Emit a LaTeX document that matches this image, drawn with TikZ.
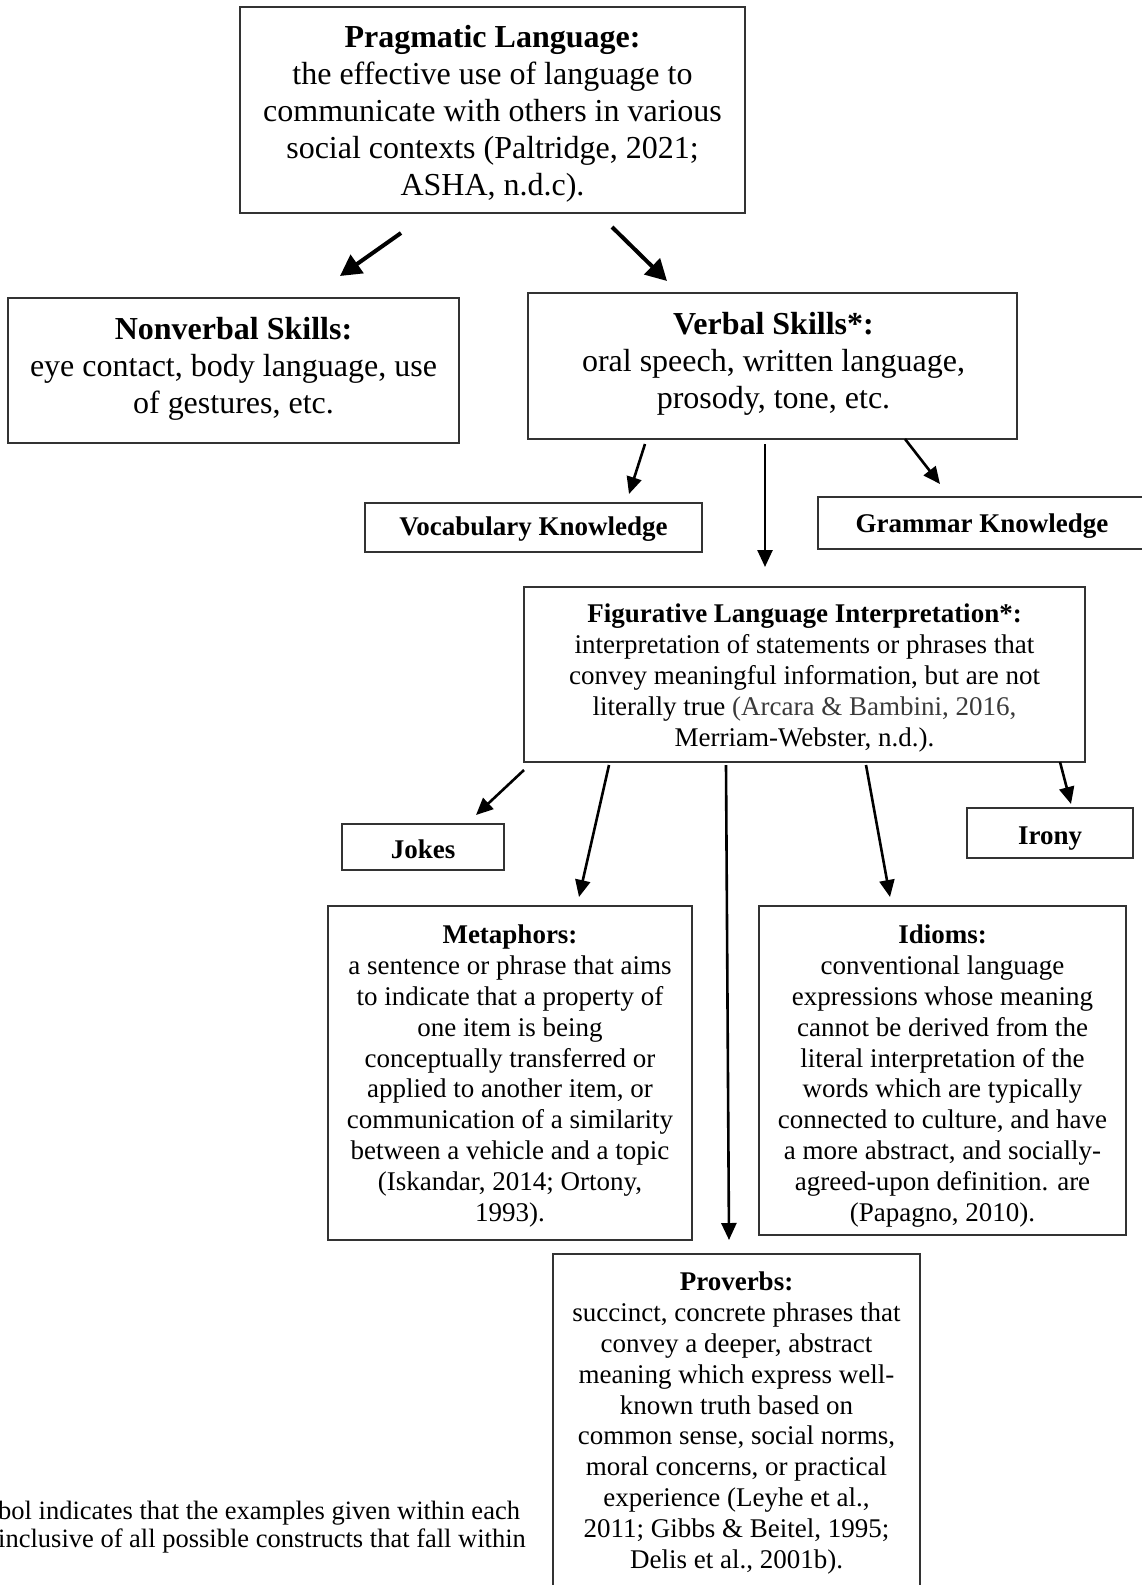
\documentclass[tikz,border=0pt]{standalone}
\usepackage{fontspec}
\setmainfont{Liberation Serif}
\usetikzlibrary{arrows.meta}
\definecolor{boxline}{HTML}{333333}
\definecolor{citegray}{HTML}{3A3A3A}
\tikzset{
  box/.style={draw=boxline, line width=1.5pt, inner sep=0pt},
  txt/.style={inner sep=0pt, align=center},
  bigtext/.style={txt, font=\fontsize{32}{37}\selectfont},
  smalltext/.style={txt, font=\fontsize{27}{30.8}\selectfont},
  bigarrow/.style={line width=4pt, -{Triangle[length=21pt,width=22pt]}},
  arrowline/.style={line width=2.6pt, -{Triangle[length=17pt,width=15pt]}},
}
\begin{document}
\begin{tikzpicture}[x=1pt,y=-1pt]
\useasboundingbox (0,0) rectangle (1142,1585);

% boxes
\node[box, minimum width=505pt, minimum height=206pt] (top) at (492.5,110) {};
\node[box, minimum width=451pt, minimum height=145pt] (nonv) at (233.5,370.5) {};
\node[box, minimum width=489pt, minimum height=146pt] (verb) at (772.5,366) {};
\node[box, minimum width=337pt, minimum height=49pt] (vocab) at (533.5,527.5) {};
\node[box, minimum width=328pt, minimum height=52pt] (gram) at (982,523) {};
\node[box, minimum width=561pt, minimum height=175pt] (fig) at (804.5,674.5) {};
\node[box, minimum width=162pt, minimum height=46pt] (jokes) at (423,847) {};
\node[box, minimum width=166pt, minimum height=50pt] (irony) at (1050,833) {};
\node[box, minimum width=364pt, minimum height=334pt] (meta) at (510,1073) {};
\node[box, minimum width=367pt, minimum height=329pt] (idioms) at (942.5,1070.5) {};
\node[box, minimum width=367pt, minimum height=334pt] (prov) at (736.5,1421) {};

% texts
\node[bigtext] (toptxt) at (492.5,114)
  {\textbf{Pragmatic Language:}\\ the effective use of language to\\ communicate with others in various\\ social contexts (Paltridge, 2021;\\ ASHA, n.d.c).};
\node[bigtext] (nonvtxt) at (233.5,369)
  {\textbf{Nonverbal Skills:}\\ eye contact, body language, use\\ of gestures, etc.};
\node[bigtext] (verbtxt) at (773.5,363.5)
  {\textbf{Verbal Skills*:}\\ oral speech, written language,\\ prosody, tone, etc.};
\node[smalltext] (vocabtxt) at (533.5,529.5)
  {\textbf{Vocabulary Knowledge}};
\node[smalltext] (gramtxt) at (982,526)
  {\textbf{Grammar Knowledge}};
\node[smalltext] (figtxt) at (804.5,678)
  {\textbf{Figurative Language Interpretation*:}\\ interpretation of statements or phrases that\\ convey meaningful information, but are not\\ literally true {\color{citegray}(Arcara \& Bambini, 2016,}\\ Merriam-Webster, n.d.).};
\node[smalltext] (jokestxt) at (423,849)
  {\textbf{Jokes}};
\node[smalltext] (ironytxt) at (1050,839)
  {\textbf{Irony}};
\node[smalltext] (metatxt) at (510,1076)
  {\textbf{Metaphors:}\\ a sentence or phrase that aims\\ to indicate that a property of\\ one item is being\\ conceptually transferred or\\ applied to another item, or\\ communication of a similarity\\ between a vehicle and a topic\\ (Iskandar, 2014; Ortony,\\ 1993).};
\node[smalltext] (idiomstxt) at (942.5,1076)
  {\textbf{Idioms:}\\ conventional language\\ expressions whose meaning\\ cannot be derived from the\\ literal interpretation of the\\ words which are typically\\ connected to culture, and have\\ a more abstract, and socially-\\ agreed-upon definition. are\\ (Papagno, 2010).};
\node[smalltext] (provtxt) at (736.5,1423)
  {\textbf{Proverbs:}\\ succinct, concrete phrases that\\ convey a deeper, abstract\\ meaning which express well-\\ known truth based on\\ common sense, social norms,\\ moral concerns, or practical\\ experience (Leyhe et al.,\\ 2011; Gibbs \& Beitel, 1995;\\ Delis et al., 2001b).};

% footnote (cut at the left edge)
\node[inner sep=0pt, anchor=west, align=left, font=\fontsize{26.5}{28.3}\selectfont] (note) at (-2,1527)
  {bol indicates that the examples given within each\\ inclusive of all possible constructs that fall within};

% arrow end points
\coordinate (a1s) at (401,233); \coordinate (a1e) at (340,276);
\coordinate (a2s) at (612,227); \coordinate (a2e) at (667,281);
\coordinate (a3s) at (645,444); \coordinate (a3e) at (629,494);
\coordinate (a4s) at (765,444); \coordinate (a4e) at (765,567);
\coordinate (a5s) at (905,439); \coordinate (a5e) at (940,484);
\coordinate (a6s) at (524,770); \coordinate (a6e) at (476,815);
\coordinate (a7s) at (609,765); \coordinate (a7e) at (579,897);
\coordinate (a8s) at (726,765); \coordinate (a8e) at (729,1240);
\coordinate (a9s) at (866,765); \coordinate (a9e) at (890,897);
\coordinate (a10s) at (1060,762); \coordinate (a10e) at (1071,804);

\draw[bigarrow] (a1s) -- (a1e);
\draw[bigarrow] (a2s) -- (a2e);
\draw[arrowline] (a3s) -- (a3e);
\draw[arrowline] (a4s) -- (a4e);
\draw[arrowline] (a5s) -- (a5e);
\draw[arrowline] (a6s) -- (a6e);
\draw[arrowline] (a7s) -- (a7e);
\draw[arrowline] (a8s) -- (a8e);
\draw[arrowline] (a9s) -- (a9e);
\draw[arrowline] (a10s) -- (a10e);
\end{tikzpicture}
\end{document}
